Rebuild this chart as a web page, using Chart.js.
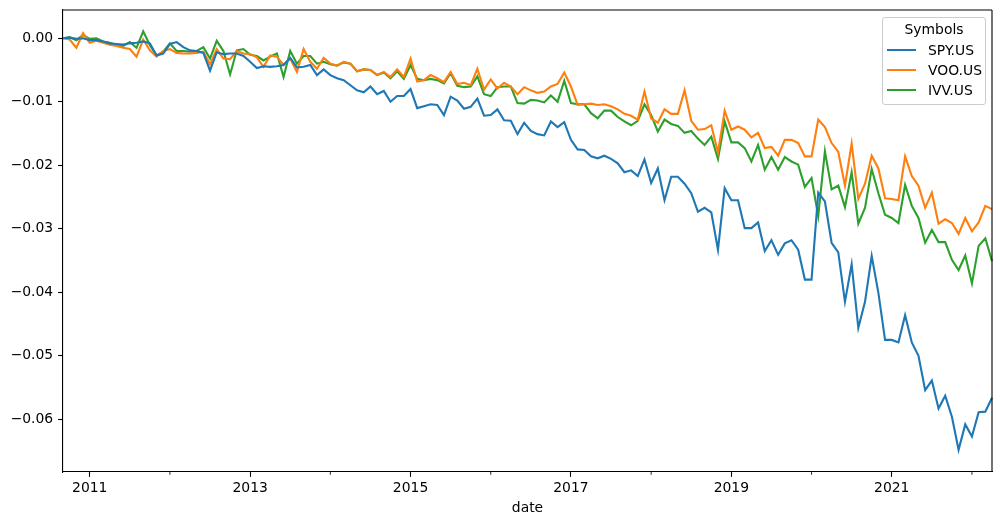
<!DOCTYPE html>
<html>
<head>
<meta charset="utf-8">
<script src="https://cdn.jsdelivr.net/npm/chart.js@4/dist/chart.umd.min.js"></script>
<style>
html,body{margin:0;padding:0;background:#fff;}
#wrap{position:relative;width:1002px;height:525px;}
#c{position:absolute;left:0;top:0;}
#legend{position:absolute;left:882px;top:17px;width:104px;height:88px;box-sizing:border-box;border:1px solid #cccccc;border-radius:3px;background:rgba(255,255,255,0.8);font-family:"DejaVu Sans";font-size:13.9px;color:#000;}
#legend .t{position:absolute;left:0;width:100%;text-align:center;line-height:16px;white-space:nowrap;}
#legend .ln{position:absolute;left:4px;width:29px;height:2px;}
#legend .lb{position:absolute;left:45px;line-height:16px;white-space:nowrap;}
</style>
</head>
<body>
<div id="wrap">
<canvas id="c" width="1002" height="525"></canvas>
<div id="legend"></div>
</div>
<script>
// ---------------- data ----------------
const legendTitle = 'Symbols';
const seriesNames = ['SPY.US', 'VOO.US', 'IVV.US'];
const seriesColors = ['#1f77b4', '#ff7f0e', '#2ca02c'];
const xTitle = 'date';
const firstMonth = '2010-09';

const spy = [
  0.0000, 0.0001, -0.0001, 0.0000, -0.0003, -0.0003, -0.0005, -0.0008, -0.0009, -0.0010,
  -0.0008, -0.0007, -0.0005, -0.0008, -0.0027, -0.0024, -0.0009, -0.0006, -0.0014, -0.0019,
  -0.0020, -0.0023, -0.0051, -0.0022, -0.0025, -0.0024, -0.0024, -0.0028, -0.0037, -0.0047,
  -0.0044, -0.0045, -0.0044, -0.0042, -0.0031, -0.0046, -0.0045, -0.0042, -0.0058, -0.0049,
  -0.0058, -0.0063, -0.0066, -0.0074, -0.0082, -0.0085, -0.0076, -0.0088, -0.0083, -0.0100,
  -0.0091, -0.0091, -0.0080, -0.0110, -0.0107, -0.0104, -0.0105, -0.0121, -0.0092, -0.0098,
  -0.0111, -0.0108, -0.0095, -0.0122, -0.0121, -0.0112, -0.0129, -0.0130, -0.0151, -0.0133,
  -0.0146, -0.0151, -0.0153, -0.0131, -0.0140, -0.0132, -0.0160, -0.0175, -0.0176, -0.0186,
  -0.0189, -0.0185, -0.0190, -0.0197, -0.0211, -0.0208, -0.0217, -0.0191, -0.0228, -0.0205,
  -0.0255, -0.0218, -0.0218, -0.0229, -0.0244, -0.0273, -0.0267, -0.0274, -0.0333, -0.0236,
  -0.0255, -0.0255, -0.0299, -0.0299, -0.0290, -0.0335, -0.0318, -0.0341, -0.0323, -0.0318,
  -0.0333, -0.0380, -0.0380, -0.0243, -0.0257, -0.0322, -0.0337, -0.0415, -0.0356, -0.0456,
  -0.0415, -0.0343, -0.0401, -0.0475, -0.0475, -0.0479, -0.0436, -0.0479, -0.0500, -0.0554,
  -0.0539, -0.0583, -0.0563, -0.0596, -0.0648, -0.0608, -0.0627, -0.0589, -0.0588, -0.0566
];

const voo = [
  0.0000, -0.0002, -0.0015, 0.0008, -0.0007, -0.0004, -0.0007, -0.0010, -0.0012, -0.0015,
  -0.0017, -0.0029, -0.0002, -0.0019, -0.0029, -0.0020, -0.0017, -0.0023, -0.0024, -0.0024,
  -0.0023, -0.0021, -0.0041, -0.0017, -0.0032, -0.0033, -0.0020, -0.0024, -0.0025, -0.0030,
  -0.0045, -0.0027, -0.0029, -0.0042, -0.0032, -0.0053, -0.0017, -0.0037, -0.0048, -0.0031,
  -0.0040, -0.0043, -0.0037, -0.0040, -0.0052, -0.0049, -0.0050, -0.0058, -0.0053, -0.0061,
  -0.0049, -0.0061, -0.0032, -0.0068, -0.0066, -0.0058, -0.0063, -0.0069, -0.0053, -0.0072,
  -0.0070, -0.0074, -0.0048, -0.0081, -0.0065, -0.0079, -0.0070, -0.0076, -0.0088, -0.0077,
  -0.0082, -0.0086, -0.0084, -0.0076, -0.0072, -0.0054, -0.0076, -0.0105, -0.0104, -0.0103,
  -0.0105, -0.0104, -0.0107, -0.0112, -0.0119, -0.0122, -0.0128, -0.0084, -0.0126, -0.0133,
  -0.0112, -0.0119, -0.0119, -0.0082, -0.0130, -0.0144, -0.0143, -0.0137, -0.0180, -0.0114,
  -0.0144, -0.0139, -0.0144, -0.0156, -0.0149, -0.0173, -0.0171, -0.0185, -0.0160, -0.0160,
  -0.0165, -0.0186, -0.0186, -0.0128, -0.0140, -0.0165, -0.0179, -0.0232, -0.0166, -0.0253,
  -0.0229, -0.0185, -0.0205, -0.0252, -0.0253, -0.0255, -0.0186, -0.0217, -0.0232, -0.0267,
  -0.0243, -0.0292, -0.0285, -0.0291, -0.0308, -0.0283, -0.0304, -0.0290, -0.0264, -0.0269
];

const ivv = [
  0.0000, 0.0002, -0.0003, 0.0005, -0.0001, 0.0000, -0.0005, -0.0007, -0.0011, -0.0012,
  -0.0006, -0.0015, 0.0011, -0.0011, -0.0027, -0.0021, -0.0008, -0.0020, -0.0020, -0.0021,
  -0.0020, -0.0014, -0.0032, -0.0004, -0.0020, -0.0057, -0.0019, -0.0017, -0.0026, -0.0028,
  -0.0035, -0.0029, -0.0024, -0.0061, -0.0020, -0.0040, -0.0028, -0.0028, -0.0040, -0.0037,
  -0.0041, -0.0043, -0.0038, -0.0040, -0.0052, -0.0049, -0.0050, -0.0058, -0.0054, -0.0063,
  -0.0052, -0.0064, -0.0042, -0.0064, -0.0066, -0.0064, -0.0066, -0.0071, -0.0055, -0.0075,
  -0.0077, -0.0076, -0.0060, -0.0088, -0.0091, -0.0077, -0.0076, -0.0076, -0.0102, -0.0103,
  -0.0097, -0.0098, -0.0101, -0.0090, -0.0100, -0.0067, -0.0102, -0.0104, -0.0104, -0.0118,
  -0.0126, -0.0114, -0.0114, -0.0124, -0.0131, -0.0137, -0.0130, -0.0104, -0.0121, -0.0147,
  -0.0128, -0.0135, -0.0138, -0.0149, -0.0146, -0.0158, -0.0168, -0.0155, -0.0190, -0.0131,
  -0.0164, -0.0164, -0.0173, -0.0194, -0.0168, -0.0207, -0.0187, -0.0207, -0.0187, -0.0194,
  -0.0199, -0.0234, -0.0220, -0.0280, -0.0178, -0.0238, -0.0232, -0.0266, -0.0211, -0.0292,
  -0.0267, -0.0206, -0.0244, -0.0278, -0.0283, -0.0291, -0.0231, -0.0264, -0.0283, -0.0322,
  -0.0302, -0.0321, -0.0321, -0.0349, -0.0365, -0.0342, -0.0386, -0.0327, -0.0315, -0.0351
];

const xMajorYears = [2011, 2013, 2015, 2017, 2019, 2021];
const xMinorYears = [2012, 2014, 2016, 2018, 2020, 2022];
const yTicks = [0, -0.01, -0.02, -0.03, -0.04, -0.05, -0.06];
const yMin = -0.0683;
const yMax = 0.00445;

// month categories (monthly periods starting at firstMonth)
const months = [];
{
  let y = +firstMonth.slice(0, 4), m = +firstMonth.slice(5, 7);
  while (months.length < spy.length) {
    months.push(y + '-' + String(m).padStart(2, '0'));
    m++; if (m > 12) { m = 1; y++; }
  }
}
const seriesData = [spy, voo, ivv];

// ---------------- legend (HTML) ----------------
const lg = document.getElementById('legend');
{
  const t = document.createElement('div');
  t.className = 't'; t.style.top = (29 - 17 - 1 - 8) + 'px'; t.textContent = legendTitle;
  lg.appendChild(t);
  const ys = [49.7, 70.2, 89.7];
  seriesNames.forEach((n, i) => {
    const ln = document.createElement('div');
    ln.className = 'ln'; ln.style.background = seriesColors[i];
    ln.style.top = (ys[i] - 17 - 1 - 1) + 'px';
    lg.appendChild(ln);
    const lb = document.createElement('div');
    lb.className = 'lb'; lb.textContent = n;
    lb.style.top = (ys[i] - 17 - 1 - 8) + 'px';
    lg.appendChild(lb);
  });
}

// ---------------- chart ----------------
const FONT = {family: 'DejaVu Sans', size: 13.9};
const frame = {
  id: 'frame',
  afterDraw(chart) {
    const {ctx, chartArea: a} = chart;
    const xs = chart.scales.x;
    ctx.save();
    ctx.strokeStyle = '#000';
    ctx.lineWidth = 1.1;
    ctx.beginPath();
    ctx.moveTo(a.left, a.top); ctx.lineTo(a.right, a.top);
    ctx.moveTo(a.right, a.top); ctx.lineTo(a.right, a.bottom);
    ctx.stroke();
    ctx.lineWidth = 0.85;
    ctx.beginPath();
    xMinorYears.forEach(y => {
      const idx = months.indexOf(y + '-01');
      if (idx < 0) return;
      const px = xs.getPixelForValue(idx);
      ctx.moveTo(px, a.bottom); ctx.lineTo(px, a.bottom + 2.8);
    });
    ctx.stroke();
    ctx.restore();
  }
};

new Chart(document.getElementById('c'), {
  type: 'line',
  data: {
    labels: months,
    datasets: seriesNames.map((n, i) => ({
      label: n,
      data: seriesData[i],
      borderColor: seriesColors[i],
      backgroundColor: seriesColors[i],
      borderWidth: 2.1,
      pointRadius: 0,
      tension: 0,
      fill: false
    }))
  },
  options: {
    responsive: false,
    animation: false,
    devicePixelRatio: 1,
    layout: {padding: {top: 10, right: 10, left: 0, bottom: 0}},
    plugins: {legend: {display: false}, tooltip: {enabled: false}},
    scales: {
      x: {
        type: 'category',
        offset: false,
        grid: {drawOnChartArea: false, drawTicks: true, tickLength: 4.9, tickWidth: 1.1, tickColor: '#000'},
        border: {display: true, color: '#000', width: 1.1},
        ticks: {
          autoSkip: false, maxRotation: 0, minRotation: 0, padding: 3,
          color: '#000', font: FONT,
          callback: (v) => months[v].slice(0, 4)
        },
        afterBuildTicks: (s) => {
          s.ticks = xMajorYears.map(y => ({value: months.indexOf(y + '-01')})).filter(t => t.value >= 0);
        },
        afterFit: (s) => { s.height = 53; s.paddingLeft = 0; s.paddingRight = 0; },
        title: {display: true, text: xTitle, color: '#000', font: FONT, padding: {top: 0, bottom: 8}}
      },
      y: {
        type: 'linear',
        min: yMin, max: yMax,
        grid: {drawOnChartArea: false, drawTicks: true, tickLength: 4.9, tickWidth: 1.1, tickColor: '#000'},
        border: {display: true, color: '#000', width: 1.1},
        ticks: {
          padding: 4.9, color: '#000', font: FONT,
          callback: (v) => (v < 0 ? '\u2212' : '') + Math.abs(v).toFixed(2)
        },
        afterBuildTicks: (s) => { s.ticks = yTicks.map(v => ({value: v})); },
        afterFit: (s) => { s.width = 63; s.paddingTop = 0; s.paddingBottom = 0; }
      }
    }
  },
  plugins: [frame]
});
</script>
</body>
</html>
